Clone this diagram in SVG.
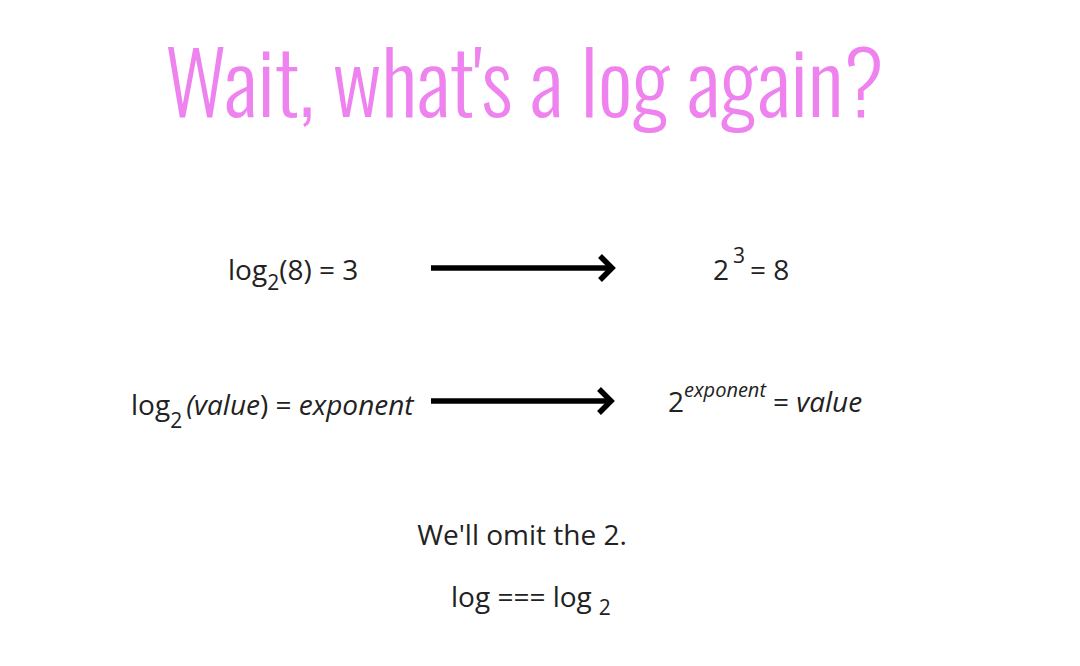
<svg xmlns="http://www.w3.org/2000/svg" width="1080" height="666" viewBox="0 0 1080 666">
  <style>
    .title { font-family: Oswald, "Roboto Condensed", Roboto, "Liberation Sans", sans-serif; font-weight: 300; fill: #ee82ee; }
    .body { font-family: "Open Sans", "Liberation Sans", sans-serif; font-size: 28px; fill: #222; }
    .it { font-style: italic; }
    .arrow { stroke: #000; stroke-width: 5.5; fill: none; }
  </style>
  <rect width="1080" height="666" fill="#fff"/>

  <g id="title">
    <text class="title" x="165" y="117" font-size="86">Wait, what's a log again?</text>
  </g>

  <g id="row1-left">
    <text class="body" x="228" y="280">log<tspan font-size="21" dy="10">2</tspan><tspan dy="-10">(8) = 3</tspan></text>
  </g>
  <g id="row1-right">
    <text class="body" x="713" y="280">2<tspan font-size="21" dx="4" dy="-17">3</tspan><tspan dx="5" dy="17">= 8</tspan></text>
  </g>
  <g id="row2-left">
    <text class="body" x="131" y="415">log<tspan font-size="21" dy="13">2</tspan><tspan dx="4" dy="-13"><tspan class="it">(value</tspan>) = <tspan class="it">exponent</tspan></tspan></text>
  </g>
  <g id="row2-right">
    <text class="body" x="668" y="412">2<tspan class="it" font-size="20" dy="-15">exponent</tspan><tspan dx="7" dy="15">= <tspan class="it">value</tspan></tspan></text>
  </g>
  <g id="note">
    <text class="body" x="522" y="545" text-anchor="middle">We'll omit the 2.</text>
  </g>
  <g id="identity">
    <text class="body" x="451" y="607">log === log<tspan font-size="21" dx="7" dy="8">2</tspan></text>
  </g>

  <g id="connectors">
    <line class="arrow" x1="431" y1="268" x2="612" y2="268"/>
    <path class="arrow" d="M600,256 L612,268 L600,280"/>
    <line class="arrow" x1="431" y1="401" x2="611" y2="401"/>
    <path class="arrow" d="M599,389 L611,401 L599,413"/>
  </g>
</svg>
